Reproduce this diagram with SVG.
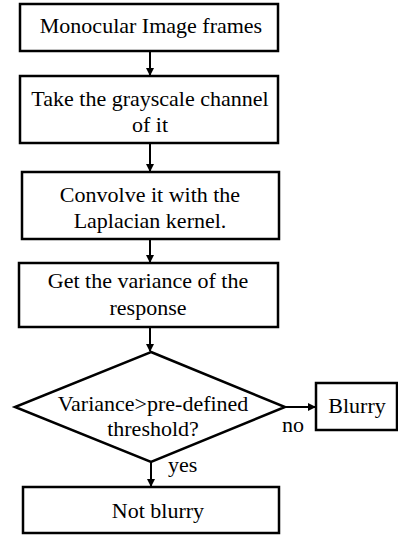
<svg xmlns="http://www.w3.org/2000/svg" width="398" height="535" viewBox="0 0 398 535">
<defs>
<marker id="a" markerWidth="8" markerHeight="8" refX="7" refY="4" orient="auto" markerUnits="userSpaceOnUse">
<path d="M0,0 L8,4 L0,8 z" fill="#000"/>
</marker>
</defs>
<rect width="398" height="535" fill="#fff"/>
<g id="connectors" stroke="#000" stroke-width="2" fill="none" marker-end="url(#a)">
<line x1="150" y1="51" x2="150" y2="75"/>
<line x1="150" y1="143" x2="150" y2="171"/>
<line x1="150" y1="239" x2="150" y2="262"/>
<line x1="150" y1="327" x2="150" y2="351"/>
<line x1="285" y1="407" x2="315" y2="407"/>
<line x1="151" y1="462" x2="151" y2="486"/>
</g>
<g id="labels">
<text x="282" y="432" style="font-family:'Liberation Serif',serif;font-size:22px">no</text>
<text x="168" y="472" style="font-family:'Liberation Serif',serif;font-size:22px">yes</text>
</g>
<g id="n1">
<rect x="20" y="4" width="258" height="47" fill="#fff" stroke="#000" stroke-width="2.5"/>
<text x="151" y="33" text-anchor="middle" style="font-family:'Liberation Serif',serif;font-size:22px">Monocular Image frames</text>
</g>
<g id="n2">
<rect x="20" y="76" width="258" height="67" fill="#fff" stroke="#000" stroke-width="2.5"/>
<text x="150" y="106" text-anchor="middle" style="font-family:'Liberation Serif',serif;font-size:22px">Take the grayscale channel</text>
<text x="150" y="132" text-anchor="middle" style="font-family:'Liberation Serif',serif;font-size:22px">of it</text>
</g>
<g id="n3">
<rect x="22" y="172" width="257" height="67" fill="#fff" stroke="#000" stroke-width="2.5"/>
<text x="150" y="202" text-anchor="middle" style="font-family:'Liberation Serif',serif;font-size:22px">Convolve it with the</text>
<text x="150" y="228" text-anchor="middle" style="font-family:'Liberation Serif',serif;font-size:22px">Laplacian kernel.</text>
</g>
<g id="n4">
<rect x="19" y="263" width="259" height="64" fill="#fff" stroke="#000" stroke-width="2.5"/>
<text x="148" y="288" text-anchor="middle" style="font-family:'Liberation Serif',serif;font-size:22px">Get the variance of the</text>
<text x="148" y="315" text-anchor="middle" style="font-family:'Liberation Serif',serif;font-size:22px">response</text>
</g>
<g id="n5">
<polygon points="151,352 285,407 151,462 15,407" fill="#fff" stroke="#000" stroke-width="2.5"/>
<text x="153" y="411" text-anchor="middle" style="font-family:'Liberation Serif',serif;font-size:22px">Variance&gt;pre-defined</text>
<text x="153" y="436" text-anchor="middle" style="font-family:'Liberation Serif',serif;font-size:22px">threshold?</text>
</g>
<g id="n6">
<rect x="316" y="383" width="81" height="47" fill="#fff" stroke="#000" stroke-width="2.5"/>
<text x="357" y="413" text-anchor="middle" style="font-family:'Liberation Serif',serif;font-size:22px">Blurry</text>
</g>
<g id="n7">
<rect x="23" y="487" width="256" height="46" fill="#fff" stroke="#000" stroke-width="2.5"/>
<text x="158" y="518" text-anchor="middle" style="font-family:'Liberation Serif',serif;font-size:22px">Not blurry</text>
</g>
</svg>
